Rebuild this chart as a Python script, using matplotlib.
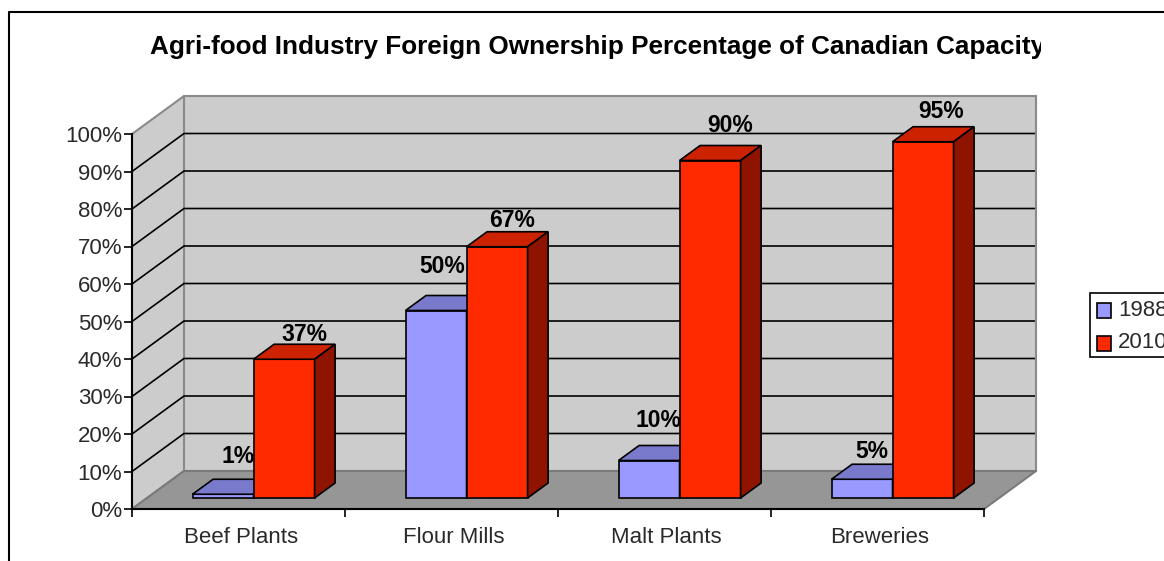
import matplotlib
matplotlib.use('Agg')
from matplotlib import pyplot as plt
from matplotlib.legend_handler import HandlerPatch
from matplotlib.lines import Line2D
from matplotlib.patches import Patch, Rectangle

categories = ['Beef Plants', 'Flour Mills', 'Malt Plants', 'Breweries']
years = ['1988', '2010']
values_1988 = [1, 50, 10, 5]
values_2010 = [37, 67, 90, 95]
y_ticks = [0, 10, 20, 30, 40, 50, 60, 70, 80, 90, 100]

W, H = 1164, 561
plt.rcParams['font.family'] = ['Liberation Sans', 'DejaVu Sans']
fs = 16
textcolor = '#2a2a2a'

fig = plt.figure(figsize=(W/100, H/100), dpi=100)
# front plane of the fake 3d box, in pixels
x0, x1, y0, y1 = 132, 984, 509, 134
ax = fig.add_axes([x0/W, 1 - y0/H, (x1-x0)/W, (y0-y1)/H])
ax.set_xlim(0, 4)
ax.set_ylim(0, 100)
ax.patch.set_visible(False)

px_x = (x1-x0)/4.
px_y = (y0-y1)/100.
DX = 52/px_x  # full depth of the box in data units
DY = 38/px_y


def proj(x, y, d):
    return x + d*DX, y + d*DY


def face(points, color, edge='k', lw=1.2, z=1):
    xs = [p[0] for p in points]
    ys = [p[1] for p in points]
    ax.fill(xs, ys, facecolor=color, edgecolor=edge, linewidth=lw,
            clip_on=False, zorder=z, joinstyle='miter')


# walls and floor
wallgrey = '#cccccc'
edgegrey = '#8a8a8a'
face([proj(0, 0, 1), proj(4, 0, 1), proj(4, 100, 1), proj(0, 100, 1)], wallgrey, edgegrey, 1.5)
face([proj(0, 0, 0), proj(0, 0, 1), proj(0, 100, 1), proj(0, 100, 0)], wallgrey, edgegrey, 1.5)
face([proj(0, 0, 0), proj(4, 0, 0), proj(4, 0, 1), proj(0, 0, 1)], '#969696', '#7a7a7a', 1.5)

# grid
for t in y_ticks[1:-1]:
    a, b, c = proj(0, t, 0), proj(0, t, 1), proj(3.995, t, 1)
    ax.plot([a[0], b[0], c[0]], [a[1], b[1], c[1]], color='k', lw=1.2,
            clip_on=False, zorder=1.2, solid_joinstyle='miter', solid_capstyle='butt')

gap = 0.2135
bar_w = 0.2865
d_front = 11/38.
d_back = 26/38.


def bar3d(left, value, colors, z):
    right = left + bar_w
    front_col, top_col, side_col = colors
    face([proj(left, 0, d_front), proj(right, 0, d_front),
          proj(right, value, d_front), proj(left, value, d_front)], front_col, z=z)
    face([proj(left, value, d_front), proj(right, value, d_front),
          proj(right, value, d_back), proj(left, value, d_back)], top_col, z=z)
    face([proj(right, 0, d_front), proj(right, 0, d_back),
          proj(right, value, d_back), proj(right, value, d_front)], side_col, z=z)


blues = ('#9999ff', '#7a7acc', '#6666aa')
reds = ('#ff2a00', '#cc2200', '#8e1400')
# label offsets from bar centre top, pixels
offs_1988 = [(15, 38), (6, 44), (9, 40), (10, 28)]
offs_2010 = [(20, 25), (15, 26), (20, 35), (18, 30)]

for i in range(len(categories)):
    z = 2 + i
    bar3d(i + gap, values_1988[i], blues, z)
    bar3d(i + gap + bar_w, values_2010[i], reds, z + 0.5)
    for left, val, off in ((i + gap, values_1988[i], offs_1988[i]),
                           (i + gap + bar_w, values_2010[i], offs_2010[i])):
        px, py = proj(left + bar_w/2, val, d_front)
        ax.annotate('%d%%' % val, (px, py), xytext=(off[0]*0.72, off[1]*0.72),
                    textcoords='offset points', ha='center', va='center',
                    fontsize=16.5, fontweight='bold', color='k', zorder=20,
                    annotation_clip=False)

# axes
for s in ('top', 'right'):
    ax.spines[s].set_visible(False)
for s in ('left', 'bottom'):
    ax.spines[s].set_linewidth(1.5)
    ax.spines[s].set_zorder(15)
ax.set_yticks(y_ticks)
ax.set_yticklabels(['%d%%' % t for t in y_ticks], fontsize=fs, color=textcolor)
ax.set_xticks(range(5))
ax.set_xticklabels([])
ax.set_xticks([i + 0.51 for i in range(4)], minor=True)
ax.set_xticklabels(categories, minor=True, fontsize=fs, color=textcolor)
ax.tick_params(axis='y', length=6, width=1.2, pad=1)
ax.tick_params(axis='x', which='major', length=6, width=1.2)
ax.tick_params(axis='x', which='minor', length=0, pad=13)

# title is cut off on the right in the original
title = fig.text(597.5/W, 1 - 47/H, 'Agri-food Industry Foreign Ownership Percentage of Canadian Capacity',
                 ha='center', va='center', fontsize=18.78, fontweight='bold', color='k')
title.set_clip_path(Rectangle((0, 0), 1041/W, 1, transform=fig.transFigure))
title.set_clip_on(True)

# outer frame, only top and left visible
fig.add_artist(Line2D([9/W, 9/W, 1], [0, 1 - 11.5/H, 1 - 11.5/H], color='k', lw=1.5))

# legend box runs off the right edge of the picture
fig.add_artist(Rectangle((1090/W, 1 - 357/H), 90/W, 64/H, transform=fig.transFigure,
                         facecolor='white', edgecolor='k', linewidth=1.2, zorder=4))


def legend_square(legend, orig_handle, xdescent, ydescent, width, height, fontsize):
    return Rectangle((-xdescent, -ydescent - 2.2), width, height)


handles = [Patch(facecolor=blues[0], edgecolor='k', linewidth=1.2),
           Patch(facecolor=reds[0], edgecolor='k', linewidth=1.2)]
fig.legend(handles, years, loc='upper left', bbox_to_anchor=(1097/W, 1 - 299.5/H),
           bbox_transform=fig.transFigure, borderaxespad=0, frameon=False,
           fontsize=fs, handlelength=0.64, handleheight=0.64, handletextpad=0.3,
           labelspacing=0.52, borderpad=0, labelcolor=textcolor,
           handler_map={Patch: HandlerPatch(patch_func=legend_square)})

fig.savefig('out.png', dpi=100)
